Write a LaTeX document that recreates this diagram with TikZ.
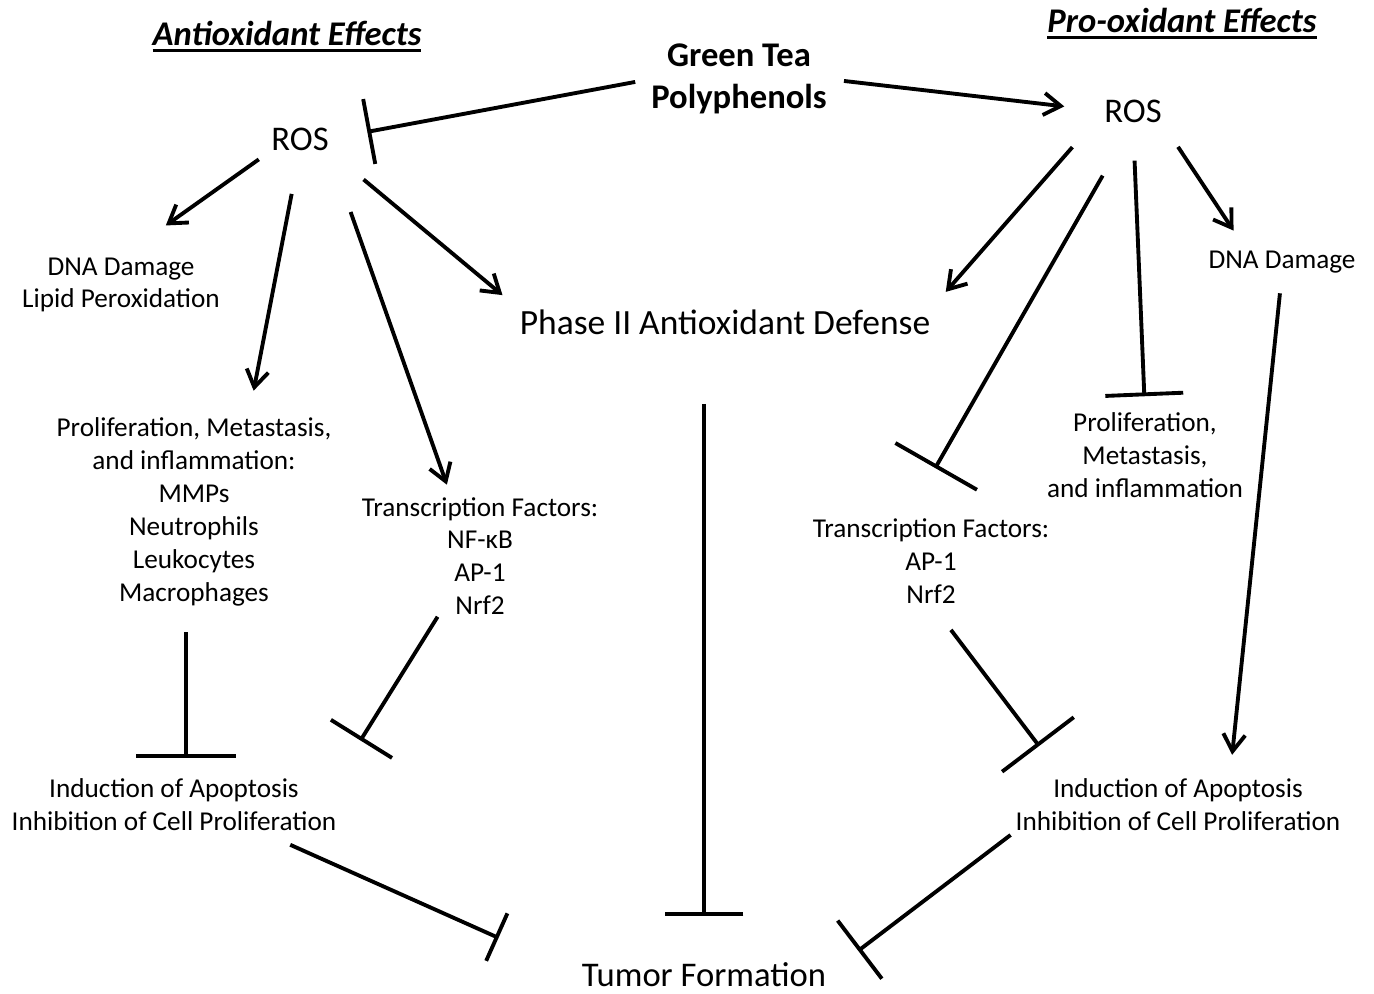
\documentclass[tikz,border=0pt]{standalone}
\usepackage{fontspec}
\setmainfont{Carlito}
\usepackage{tikz}
\usetikzlibrary{arrows.meta}

\newcommand{\hdul}[1]{\setbox0=\hbox{#1}\rlap{\raisebox{-4pt}{\rule{\wd0}{1.7pt}}}\box0}

\tikzset{
    lbl/.style={font=\fontsize{15.5}{18.7}\selectfont, align=center, inner sep=0pt},
    big/.style={font=\fontsize{19.7}{23.8}\selectfont, align=center, inner sep=0pt},
    head/.style={font=\fontsize{19.7}{23.8}\selectfont\bfseries\itshape, inner sep=0pt},
    act/.style={line width=2.2pt, -{Straight Barb[length=0.34cm, width=0.44cm]}},
    inh/.style={line width=2.2pt, -{Bar[width=#1]}}
}

\begin{document}
\begin{tikzpicture}[x=0.02cm, y=-0.02cm]
    \useasboundingbox (0,0) rectangle (1374,994);

    % Headings
    \node[head, anchor=base] (hdA) at (287,45) {\hdul{Antioxidant Effects}};
    \node[head, anchor=base] (hdP) at (1182,32) {\hdul{Pro-oxidant Effects}};

    % Green tea polyphenols and the two ROS
    \node[big, font=\fontsize{19.7}{24.2}\selectfont\bfseries] (gt) at (739,79) {Green Tea\\Polyphenols};
    \node[big] (rosL) at (300,139) {ROS};
    \node[big] (rosR) at (1133,111) {ROS};

    % Antioxidant side
    \node[lbl] (dnaL) at (121,285) {DNA Damage\\Lipid Peroxidation};
    \node[lbl] (proL) at (194,512) {Proliferation, Metastasis,\\and inflammation:\\MMPs\\Neutrophils\\Leukocytes\\Macrophages};
    \node[lbl] (tfL) at (480,556) {Transcription Factors:\\NF-κB\\AP-1\\Nrf2};
    \node[lbl] (indL) at (174,805) {Induction of Apoptosis\\Inhibition of Cell Proliferation};

    % Middle
    \node[big, font=\fontsize{20.2}{24}\selectfont] (phase) at (725,322) {Phase II Antioxidant Defense};
    \node[big] (tumor) at (704,975) {Tumor Formation};

    % Pro-oxidant side
    \node[lbl] (dnaR) at (1282,262) {DNA Damage};
    \node[lbl] (proR) at (1145,455) {Proliferation,\\Metastasis,\\and inflammation};
    \node[lbl] (tfR) at (931,561) {Transcription Factors:\\AP-1\\Nrf2};
    \node[lbl] (indR) at (1178,805) {Induction of Apoptosis\\Inhibition of Cell Proliferation};

    % Connectors, antioxidant side
    \draw[inh=1.32cm, shorten <=0.32cm, shorten >=0.78cm] (gt.west) -- (rosL.east);
    \draw[act, shorten <=0.30cm, shorten >=1.10cm] (rosL.south west) -- (dnaL.north);
    \draw[act, shorten <=0.88cm, shorten >=0.55cm] (rosL.south) -- (proL.60);
    \draw[act, shorten <=1.30cm, shorten >=0.26cm] (rosL.south east) -- (tfL.116);
    \draw[act, shorten <=0.90cm, shorten >=0.44cm] (rosL.south east) -- (phase.north west);
    \draw[inh=2cm, shorten <=0.52cm, shorten >=0.42cm] (proL.-95) -- (proL.-95 |- indL.north);
    \draw[inh=1.44cm, shorten <=0.04cm, shorten >=0.90cm] (tfL.235) -- (indL.north east);
    \draw[inh=1.04cm, shorten <=0.66cm, shorten >=1.82cm] (indL.-17) -- (tumor.west);

    % Phase II down to tumor
    \draw[inh=1.58cm, shorten <=1.38cm, shorten >=0.94cm] (tumor.north |- phase.south) -- (tumor.north);

    % Connectors, pro-oxidant side
    \draw[act, shorten <=0.34cm, shorten >=0.80cm] (gt.east) -- (rosR.west);
    \draw[act, shorten <=0.96cm, shorten >=0.46cm] (rosR.west) -- (phase.north east);
    \draw[inh=1.88cm, shorten <=1.22cm, shorten >=1.16cm] (rosR.south) -- (tfR.120);
    \draw[inh=1.56cm, shorten <=0.76cm, shorten >=0.32cm] (rosR.south) -- (proR.north);
    \draw[act, shorten <=0.58cm, shorten >=0.48cm] (rosR.south east) -- (dnaR.162);
    \draw[act, shorten <=0.40cm, shorten >=0.48cm] (dnaR.south) -- (indR.27);
    \draw[inh=1.8cm, shorten <=0.66cm, shorten >=0.82cm] (tfR.south) -- (indR.167);
    \draw[inh=1.46cm, shorten <=0.12cm, shorten >=0.80cm] (indR.south west) -- (tumor.east);
\end{tikzpicture}
\end{document}
